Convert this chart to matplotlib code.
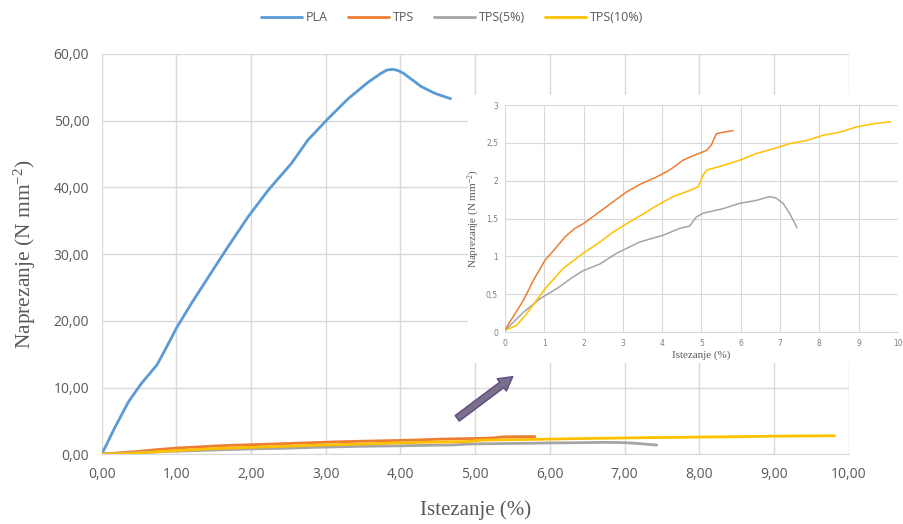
import matplotlib.pyplot as plt
from matplotlib.patches import Rectangle, FancyArrowPatch
from matplotlib.ticker import FuncFormatter, MultipleLocator

plt.rcParams['mathtext.fontset'] = 'custom'
plt.rcParams['mathtext.rm'] = 'Liberation Serif'
plt.rcParams['mathtext.it'] = 'Liberation Serif:italic'

# Stress-strain curves
pla_x = [0, 0.18, 0.36, 0.53, 0.74, 0.87, 1.0, 1.2, 1.43, 1.69, 1.96, 2.23, 2.54,
         2.76, 3.03, 3.3, 3.57, 3.74, 3.82, 3.9, 3.97, 4.04, 4.1, 4.28, 4.46, 4.67]
pla_y = [0, 4.1, 7.9, 10.6, 13.4, 16.1, 18.9, 22.6, 26.6, 31.1, 35.6, 39.6, 43.6,
         47.1, 50.3, 53.3, 55.8, 57.1, 57.6, 57.7, 57.5, 57.1, 56.6, 55.1, 54.1, 53.3]

tps_x = [0, 0.47, 0.72, 1.02, 1.31, 1.53, 1.78, 1.99, 2.33, 2.75, 3.09, 3.43, 3.86,
         4.19, 4.53, 4.79, 5.13, 5.25, 5.38, 5.55, 5.8]
tps_y = [0.03, 0.42, 0.68, 0.95, 1.12, 1.26, 1.37, 1.43, 1.56, 1.72, 1.85, 1.95, 2.05,
         2.14, 2.27, 2.33, 2.40, 2.47, 2.62, 2.64, 2.66]

tps5_x = [0, 0.47, 0.89, 1.31, 1.74, 1.99, 2.42, 2.84, 3.43, 4.03, 4.45, 4.7, 4.87,
          5.04, 5.55, 5.97, 6.4, 6.74, 6.9, 7.08, 7.25, 7.43]
tps5_y = [0.02, 0.26, 0.44, 0.57, 0.73, 0.81, 0.90, 1.04, 1.19, 1.28, 1.37, 1.40, 1.52,
          1.57, 1.63, 1.70, 1.74, 1.79, 1.77, 1.70, 1.56, 1.38]

tps10_x = [0, 0.3, 0.55, 1.02, 1.48, 1.99, 2.42, 2.75, 3.09, 3.52, 3.86, 4.28, 4.7,
           4.92, 5.04, 5.13, 5.55, 5.97, 6.4, 6.82, 7.25, 7.67, 8.09, 8.52, 8.94,
           9.36, 9.81]
tps10_y = [0.02, 0.09, 0.24, 0.57, 0.84, 1.04, 1.19, 1.32, 1.43, 1.56, 1.67, 1.79, 1.87,
           1.92, 2.07, 2.14, 2.20, 2.27, 2.36, 2.42, 2.49, 2.53, 2.60, 2.64, 2.71,
           2.75, 2.78]

labels = ['PLA', 'TPS', 'TPS(5%)', 'TPS(10%)']
colors = ['#5B9BD5', '#ED7D31', '#A5A5A5', '#FFC000']

grid_c = '#D9D9D9'
text_c = '#595959'

fig = plt.figure(figsize=(9.04, 5.24), dpi=100)
ax = fig.add_axes([0.1125, 0.133, 0.8263, 0.764])

series = [(pla_x, pla_y), (tps_x, tps_y), (tps5_x, tps5_y), (tps10_x, tps10_y)]
for (xs, ys), lab, c in zip(series, labels, colors):
    ax.plot(xs, ys, color=c, lw=2.0, label=lab, solid_capstyle='round',
            solid_joinstyle='round')

ax.set_xlim(0, 10)
ax.set_ylim(0, 60)
ax.xaxis.set_major_locator(MultipleLocator(1))
ax.yaxis.set_major_locator(MultipleLocator(10))
comma2 = FuncFormatter(lambda v, p: f'{v:.2f}'.replace('.', ','))
ax.xaxis.set_major_formatter(comma2)
ax.yaxis.set_major_formatter(comma2)
ax.grid(True, color=grid_c, lw=1)
ax.set_axisbelow(True)
for s in ['top', 'right', 'left']:
    ax.spines[s].set_visible(False)
ax.spines['bottom'].set_color(grid_c)
ax.tick_params(length=0, labelsize=10, labelcolor=text_c, pad=9)
for t in ax.get_xticklabels() + ax.get_yticklabels():
    t.set_fontfamily('Open Sans')
ax.set_xlabel('Istezanje (%)', fontsize=15, family='Liberation Serif', color=text_c, labelpad=13)
ax.set_ylabel('Naprezanje (N mm$^{-2}$)', fontsize=15.5, family='Liberation Serif', color=text_c, labelpad=11)

fig.legend(loc='upper center', bbox_to_anchor=(0.5, 1.0), ncol=4, frameon=False,
           prop={'family': 'Open Sans', 'size': 9}, labelcolor=text_c,
           handlelength=3.3, columnspacing=1.6, handletextpad=0.3)

# white panel behind the inset
fig.patches.append(Rectangle((468 / 904, 1 - 363 / 524), 436 / 904, 268 / 524,
                             transform=fig.transFigure, facecolor='white',
                             edgecolor='none', zorder=2))

ins = fig.add_axes([0.5586, 0.3664, 0.4347, 0.4332], zorder=3)
ins.patch.set_alpha(0)
for (xs, ys), c in zip(series[1:], colors[1:]):
    ins.plot(xs, ys, color=c, lw=1.1, solid_joinstyle='round')
ins.set_xlim(0, 10)
ins.set_ylim(0, 3)
ins.xaxis.set_major_locator(MultipleLocator(1))
ins.yaxis.set_major_locator(MultipleLocator(0.5))
ins.yaxis.set_major_formatter(FuncFormatter(lambda v, p: f'{v:g}'.replace('.', ',')))
ins.grid(True, color=grid_c, lw=0.8)
ins.set_axisbelow(True)
for s in ['top', 'right', 'left']:
    ins.spines[s].set_visible(False)
ins.spines['bottom'].set_color(grid_c)
ins.tick_params(length=0, labelsize=5.5, labelcolor='#7F7F7F', pad=5)
ins.set_xlabel('Istezanje (%)', fontsize=8, family='Liberation Serif', color=text_c, labelpad=2)
ins.set_ylabel('Naprezanje (N mm$^{-2}$)', fontsize=8, family='Liberation Serif', color=text_c, labelpad=3)

# arrow pointing from the main curves to the inset
arrow = FancyArrowPatch((455 / 904, 1 - 420 / 524), (515 / 904, 1 - 375 / 524),
                        transform=fig.transFigure,
                        arrowstyle='simple,head_width=1.0,head_length=0.9,tail_width=0.45',
                        mutation_scale=11, facecolor='#7B6F8C', edgecolor='#5E4B85',
                        lw=1, zorder=4)
fig.patches.append(arrow)

fig.savefig('out.png', dpi=100)
